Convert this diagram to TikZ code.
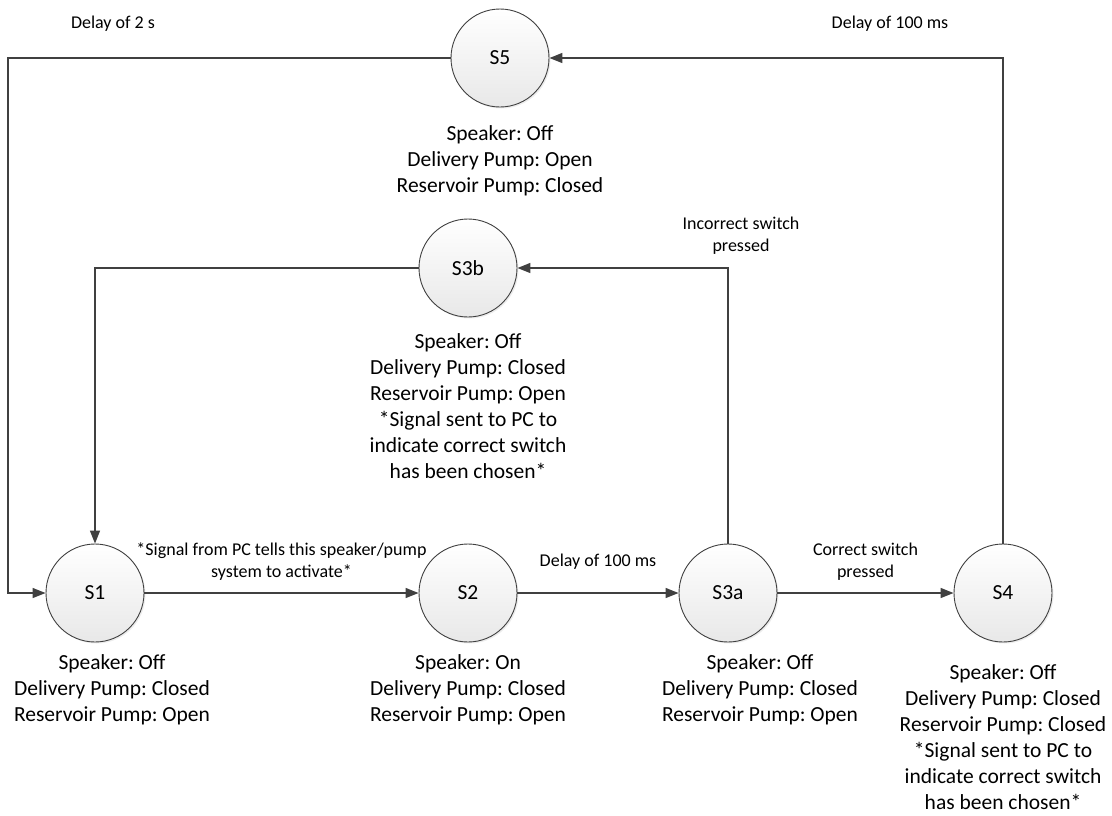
\documentclass[tikz,border=0pt]{standalone}
\usepackage{fontspec}
\setmainfont{Carlito}
\usetikzlibrary{shadows}
\usetikzlibrary{positioning}
\usetikzlibrary{arrows.meta,shapes}
\frenchspacing
\definecolor{linegray}{HTML}{404040}
\tikzstyle{state}=[circle,draw=linegray,line width=0.9pt,top color=white,bottom color=black!9,minimum size=98pt,inner sep=0pt,font=\fontsize{21.5}{26}\selectfont,drop shadow={shadow xshift=1.5pt,shadow yshift=-1.5pt,opacity=0.15}]
\tikzstyle{info}=[font=\fontsize{21.5}{26}\selectfont,align=center,anchor=north,inner sep=0pt]
\tikzstyle{edge} = [draw=linegray,line width=1.4pt,-{Triangle[length=13pt,width=10pt]}]
\tikzstyle{weight} = [font=\fontsize{18}{22}\selectfont,align=center,inner sep=0pt]

\begin{document}
\begin{tikzpicture}[x=1pt,y=-1pt]

  \useasboundingbox (0,0) rectangle (1112,815);

  \foreach \y/\x/\name in {593/95/S1, 593/468/S2, 593/728/S3a, 593/1003/S4, 268/468/S3b, 58/500/S5}
        \node[state] (\name) at (\x,\y) {\name};

  \node[info] (S1info) at (112,654) {Speaker: Off\\Delivery Pump: Closed\\Reservoir Pump: Open};
  \node[info] (S2info) at (468,654) {Speaker: On\\Delivery Pump: Closed\\Reservoir Pump: Open};
  \node[info] (S3ainfo) at (760,654) {Speaker: Off\\Delivery Pump: Closed\\Reservoir Pump: Open};
  \node[info] (S4info) at (1003,664) {Speaker: Off\\Delivery Pump: Closed\\Reservoir Pump: Closed\\*Signal sent to PC to\\indicate correct switch\\has been chosen*};
  \node[info] (S3binfo) at (468,333) {Speaker: Off\\Delivery Pump: Closed\\Reservoir Pump: Open\\*Signal sent to PC to\\indicate correct switch\\has been chosen*};
  \node[info] (S5info) at (500,125) {Speaker: Off\\Delivery Pump: Open\\Reservoir Pump: Closed};

  % straight transitions along the bottom row
  \draw[edge] (S1) -- node[weight,yshift=31pt] {*Signal from PC tells this speaker/pump\\system to activate*} (S2);
  \draw[edge] (S2) -- node[weight,yshift=31pt] {Delay of 100 ms} (S3a);
  \draw[edge] (S3a) -- node[weight,yshift=31pt] {Correct switch\\pressed} (S4);

  % return paths
  \coordinate (corner) at (8,58);
  \draw[edge] (S5.west) -- (corner) |- (S1.west);
  \draw[edge] (S3b.west) -| (S1.north);
  \draw[edge] (S3a.north) |- (S3b.east);
  \draw[edge] (S4.north) |- (S5.east);

  \node[weight] (delayS5) at (113,24) {Delay of 2 s};
  \node[weight] (delayS4) at (890,24) {Delay of 100 ms};
  \node[weight] (wrongsw) at (741,236) {Incorrect switch\\pressed};

\end{tikzpicture}
\end{document}
